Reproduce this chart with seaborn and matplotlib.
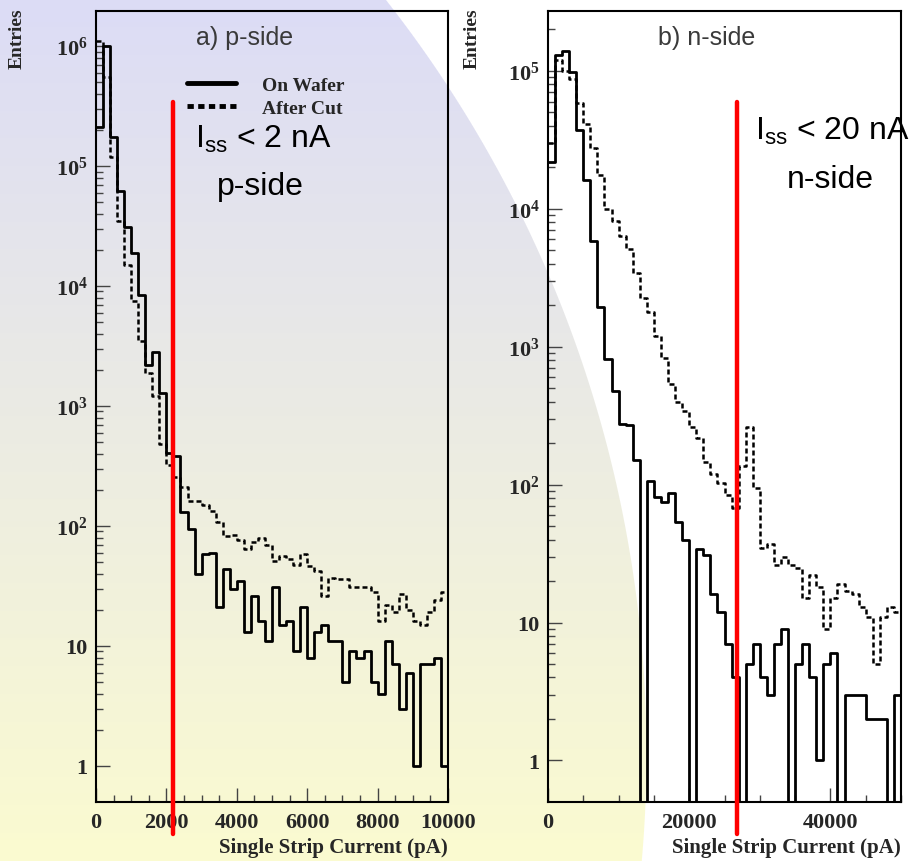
import numpy as np
import pandas as pd
import matplotlib
matplotlib.use('Agg')
from matplotlib import pyplot as plt
from matplotlib.ticker import MultipleLocator, FixedLocator, FuncFormatter, NullFormatter
from matplotlib.lines import Line2D
import seaborn as sns

# p-side: 200 pA bins from 0 to 10000 pA
p_edges = list(range(0, 10001, 200))
p_on_wafer = [210000, 1000000, 175000, 62000, 31000, 19000, 8400, 2200, 2800, 1290,
              405, 380, 130, 94, 40, 58, 60, 21, 44, 30,
              35, 13, 26, 16, 11, 31, 15, 16, 9, 21,
              8, 13, 15, 11, 11, 5, 9, 8, 9, 5,
              4, 11, 7, 3, 6, 1, 7, 7, 8, 1]
p_after_cut = [1100000, 550000, 118000, 35000, 15000, 7500, 3500, 1900, 1200, 480,
               320, 257, 211, 162, 160, 150, 134, 107, 82, 84,
               76, 64, 73, 79, 70, 51, 56, 53, 47, 58,
               46, 42, 26, 37, 36, 36, 31, 31, 31, 28,
               16, 22, 19, 27, 20, 16, 15, 19, 24, 28]

# n-side: 1000 pA bins from 0 to 50000 pA
n_edges = list(range(0, 50001, 1000))
n_on_wafer = [22000, 130000, 139000, 99000, 37000, 16200, 5800, 1940, 810, 474,
              277, 270, 152, 0, 106, 81, 75, 87, 54, 40,
              0, 34, 31, 16, 12, 7, 4, 0, 5, 7,
              4, 3, 7, 9, 0, 5, 7, 4, 1, 5,
              6, 0, 3, 3, 3, 2, 2, 2, 0, 3]
n_after_cut = [30000, 120000, 100000, 88000, 59000, 41000, 27500, 17600, 10000, 8100,
               6400, 5100, 3400, 2250, 1800, 1190, 830, 540, 395, 344,
               263, 217, 146, 120, 103, 84, 68, 137, 262, 95,
               35, 37, 26, 30, 26, 25, 15, 22, 18, 9,
               15, 19, 17, 16, 13, 11, 5, 11, 13, 12]

# cut lines (red)
p_limit = 2180
n_limit = 26800

# decades shown on the y axes
p_decades = [0, 1, 2, 3, 4, 5, 6]
n_decades = [0, 1, 2, 3, 4, 5]

sns.set_style('ticks')
plt.rcParams['font.family'] = ['Liberation Serif', 'DejaVu Serif']
plt.rcParams['font.weight'] = 'bold'
plt.rcParams['mathtext.fontset'] = 'custom'
plt.rcParams['mathtext.rm'] = 'Liberation Sans:weight=normal'
plt.rcParams['mathtext.it'] = 'Liberation Sans:italic:weight=normal'
plt.rcParams['mathtext.bf'] = 'Liberation Serif:weight=bold'

fig = plt.figure(figsize=(9.16, 8.62), dpi=100)

# slide background: vertical gradient with a white disc cut on the right
bg = fig.add_axes([0, 0, 1, 1], zorder=-10)
h, w = 862, 916
yy, xx = np.mgrid[0:h, 0:w]
t = (yy / (h - 1))[..., None]
top = np.array([220, 220, 246]) / 255
bot = np.array([251, 251, 208]) / 255
img = top + (bot - top) * t
d = np.sqrt((xx + 574.0) ** 2 + (yy - 754.0) ** 2)
blend = np.clip(d - 1220 + 0.5, 0, 1)[..., None]
img = img * (1 - blend) + blend
bg.imshow(img, aspect='auto', interpolation='bilinear')
bg.axis('off')

ax1 = fig.add_axes([96 / 916, 1 - 803 / 862, 352 / 916, 791 / 862])
ax2 = fig.add_axes([548 / 916, 1 - 803 / 862, 353 / 916, 791 / 862])


def log_label(v, pos):
    e = int(round(np.log10(v)))
    if e == 0:
        return '1'
    if e == 1:
        return '10'
    return r'$\mathbf{10^{%d}}$' % e


def panel(ax, edges, on, cut, ylim, decades, major, minor, title, tx, ylab_x):
    centers = [(a + b) / 2 for a, b in zip(edges[:-1], edges[1:])]
    df = pd.DataFrame({'current': centers, 'on': on, 'cut': cut})
    sns.histplot(data=df, x='current', weights='on', bins=edges, element='step',
                 fill=False, color='black', linewidth=2.0, ax=ax)
    sns.histplot(data=df, x='current', weights='cut', bins=edges, element='step',
                 fill=False, color='black', linewidth=1.8, linestyle=(0, (2.0, 1.2)), ax=ax)
    ax.set_facecolor('none')
    ax.set_yscale('log')
    ax.set_xlim(edges[0], edges[-1])
    ax.set_ylim(*ylim)
    ax.xaxis.set_major_locator(MultipleLocator(major))
    ax.xaxis.set_minor_locator(MultipleLocator(minor))
    major_y = [10.0 ** e for e in decades]
    minor_y = [m * 10.0 ** e for e in decades for m in range(2, 10)
               if m * 10.0 ** e < ylim[1]]
    ax.yaxis.set_major_locator(FixedLocator(major_y))
    ax.yaxis.set_minor_locator(FixedLocator(minor_y))
    ax.yaxis.set_major_formatter(FuncFormatter(log_label))
    ax.yaxis.set_minor_formatter(NullFormatter())
    ax.tick_params(which='both', direction='in', top=False, right=False,
                   color='#444444', width=1.0)
    ax.tick_params(which='major', length=10)
    ax.tick_params(which='minor', length=5)
    ax.tick_params(axis='x', pad=7, labelsize=16)
    ax.tick_params(axis='y', pad=6, labelsize=16)
    for s in ax.spines.values():
        s.set_color('black')
        s.set_linewidth(1.5)
    ax.set_xlabel('Single Strip Current (pA)', loc='right', fontsize=15,
                  fontweight='bold', labelpad=4)
    ax.set_ylabel('Entries', loc='top', fontsize=14, fontweight='bold')
    ax.yaxis.set_label_coords(ylab_x, 1.005)
    ax.text(tx, 0.967, title, transform=ax.transAxes, ha='center', va='center',
            family='Liberation Sans', fontweight='normal', fontsize=18, color='#3a3a3a')


panel(ax1, p_edges, p_on_wafer, p_after_cut, (0.5, 1.96e6), p_decades, 2000, 500,
      'a) p-side', 0.423, -0.199)
panel(ax2, n_edges, n_on_wafer, n_after_cut, (0.5, 2.72e5), n_decades, 20000, 5000,
      'b) n-side', 0.45, -0.19)

# cut lines drawn over the slide
for ax, cut_value in [(ax1, p_limit), (ax2, n_limit)]:
    ax.axvline(cut_value, ymin=(803 - 835) / 791, ymax=(803 - 103) / 791,
               color='#ff0000', linewidth=3.2, clip_on=False, zorder=6)

big = dict(family='Liberation Sans', fontweight='normal', fontsize=23,
           color='black', ha='center', va='baseline', clip_on=False)
ax1.text(0.474, 0.828, r'I$_{\rm ss}$ < 2 nA', transform=ax1.transAxes, **big)
ax1.text(0.466, 0.769, 'p-side', transform=ax1.transAxes, **big)
ax2.text(0.805, 0.838, r'I$_{\rm ss}$ < 20 nA', transform=ax2.transAxes, **big)
ax2.text(0.799, 0.777, 'n-side', transform=ax2.transAxes, **big)

handles = [Line2D([], [], color='black', linewidth=3.5),
           Line2D([], [], color='black', linewidth=3.5, linestyle=(0, (1.3, 0.9)))]
ax1.legend(handles, ['On Wafer', 'After Cut'], loc='center left',
           bbox_to_anchor=(0.2585, 0.892), frameon=False, borderpad=0,
           borderaxespad=0, handlelength=2.5, handletextpad=1.35, labelspacing=0.3,
           prop={'family': 'Liberation Serif', 'weight': 'bold', 'size': 14})

fig.savefig('out.png', dpi=100)
